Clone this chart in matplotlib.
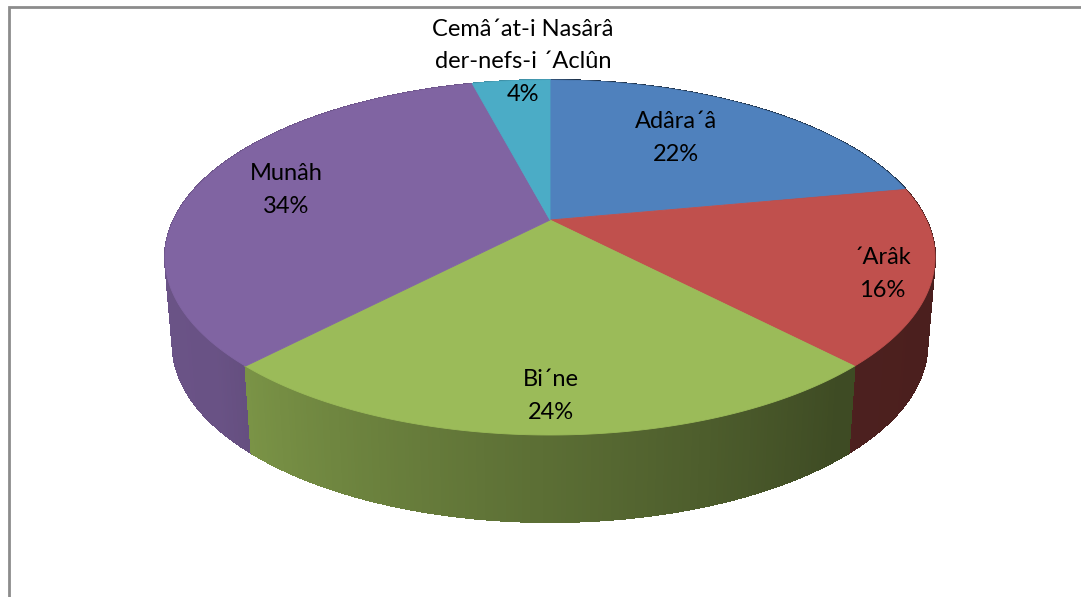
import numpy as np
import matplotlib
matplotlib.use("Agg")
import matplotlib.pyplot as plt
from matplotlib.patches import Polygon
from matplotlib.collections import PolyCollection
from matplotlib.colors import to_rgb

# ── data ──────────────────────────────────────────────
labels = ["Adâra´â", "´Arâk", "Bi´ne", "Munâh", "Cemâ´at-i Nasârâ\nder-nefs-i ´Aclûn"]
shares = [22, 16, 24, 34, 4]
colors = ["#4F81BD", "#C0504D", "#9BBB59", "#8064A2", "#4BACC6"]

# ── layout (pixel space, y down) ──────────────────────
W, H = 1081, 597
CX, CY = 550, 220          # where the slices meet
TOP_Y, FRONT_Y = 80, 435   # far / near edge of the top face on the centre line
HALF_W = 385               # half width of the top face
DEPTH = 87                 # thickness of the pie
BOTTOM_SCALE = 0.98        # vertical edges lean in a little (perspective)
LABEL_POS = [(676, 138), (882, 274), (551, 396), (286, 190), (523, 62)]
FONT = ["Lato", "DejaVu Sans"]

# perspective: y = (A*v + CY) / (1 + C*v), x = CX + K*u / (1 + C*v)
# solved from (CY - A) / (1 - C) = TOP_Y and (CY + A) / (1 + C) = FRONT_Y
C = (2 * CY - TOP_Y - FRONT_Y) / (FRONT_Y - TOP_Y)
A = CY - TOP_Y * (1 - C)
K = HALF_W * np.sqrt(1 - C ** 2)


def project(theta, r=1.0):
    t = np.radians(theta)
    u, v = r * np.sin(t), -r * np.cos(t)
    den = 1 + C * v
    return CX + K * u / den, (A * v + CY) / den


def shade(theta):
    # side walls: lit from the left, dark on the right
    th = np.mod(theta, 360)
    return np.interp(th, [90, 140, 230, 270], [0.38, 0.40, 0.82, 0.84])


fig = plt.figure(figsize=(W / 100, H / 100), dpi=100)
ax = fig.add_axes([0, 0, 1, 1])
ax.set_xlim(0, W)
ax.set_ylim(H, 0)
ax.axis("off")

bounds = np.concatenate([[0], np.cumsum(shares)]) / sum(shares) * 360

# side walls: small quads, far ones first
quads, qcols, qdepth = [], [], []
for i in range(len(shares)):
    th = np.linspace(bounds[i], bounds[i + 1], max(int((bounds[i + 1] - bounds[i]) / 0.5), 2))
    xs, ys = project(th)
    xb = CX + (xs - CX) * BOTTOM_SCALE
    base = np.array(to_rgb(colors[i]))
    for j in range(len(th) - 1):
        quads.append([(xs[j], ys[j]), (xs[j + 1], ys[j + 1]),
                      (xb[j + 1], ys[j + 1] + DEPTH), (xb[j], ys[j] + DEPTH)])
        qcols.append(np.clip(base * shade((th[j] + th[j + 1]) / 2), 0, 1))
        qdepth.append(-np.cos(np.radians((th[j] + th[j + 1]) / 2)))
order = np.argsort(qdepth)
ax.add_collection(PolyCollection([quads[k] for k in order],
                                 facecolors=[qcols[k] for k in order],
                                 edgecolors=[qcols[k] for k in order],
                                 linewidths=0.8, antialiased=False))

# top face
for i in range(len(shares)):
    th = np.linspace(bounds[i], bounds[i + 1], 200)
    xs, ys = project(th)
    pts = [(CX, CY)] + list(zip(xs, ys))
    ax.add_patch(Polygon(pts, closed=True, facecolor=colors[i], edgecolor=colors[i], linewidth=0.6))

# labels
for lab, s, (lx, ly) in zip(labels, shares, LABEL_POS):
    ax.text(lx, ly, f"{lab}\n{s}%", ha="center", va="center", fontsize=17,
            family=FONT, color="black", linespacing=1.65)

# frame
ax.plot([9, 9, W], [H, 7, 7], color="#8c8c8c", linewidth=2, solid_joinstyle="miter")

fig.savefig("out.png", dpi=100, facecolor="white")
